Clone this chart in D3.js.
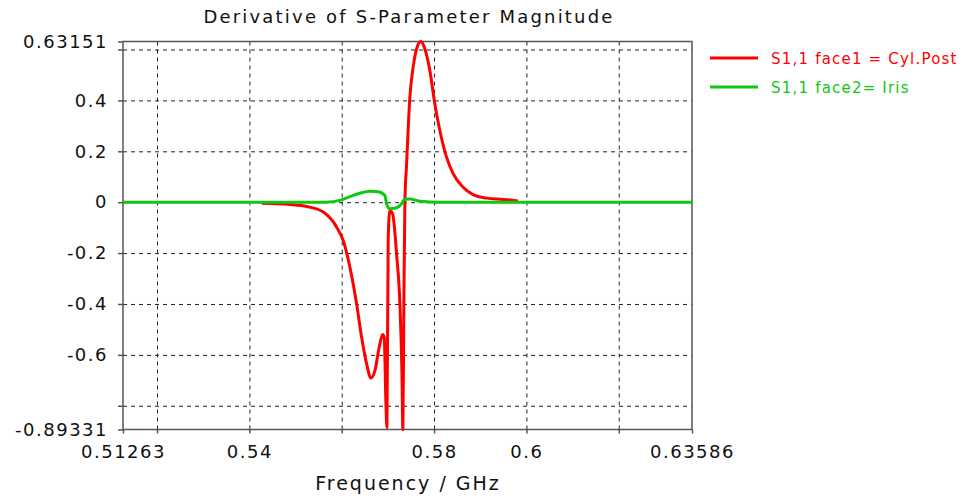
<!DOCTYPE html>
<html>
<head>
<meta charset="utf-8">
<script src="https://cdn.jsdelivr.net/npm/d3@7"></script>
<style>
  body { margin: 0; background: #fff; }
  text { font-family: "DejaVu Sans", sans-serif; }
</style>
</head>
<body>
<svg id="chart" width="971" height="499"></svg>
<script>
// frequencies (GHz) and values
var redFreq = [0.54268, 0.5488, 0.55242, 0.556, 0.5589, 0.56033, 0.56178, 0.56323, 0.56431, 0.5654,
  0.56632, 0.56719, 0.56812, 0.56886, 0.5692, 0.56957, 0.56979, 0.57007, 0.57043, 0.57102,
  0.57188, 0.5726, 0.57303, 0.57325, 0.57346, 0.57368, 0.57405, 0.57476, 0.57547, 0.57634,
  0.57714, 0.578, 0.57908, 0.58016, 0.58125, 0.5827, 0.58413, 0.58629, 0.58845, 0.59135,
  0.59494, 0.59819];
var redVal = [-0.004, -0.009, -0.017, -0.039, -0.098, -0.151, -0.256, -0.4, -0.531, -0.636,
  -0.691, -0.662, -0.57, -0.52, -0.531, -0.79, -0.885, -0.138, -0.033, -0.046,
  -0.203, -0.4, -0.66, -0.89331, -0.4, 0, 0.15, 0.413, 0.531, 0.61,
  0.63151, 0.603, 0.518, 0.387, 0.282, 0.177, 0.112, 0.059, 0.03, 0.016,
  0.011, 0.005];

var greenFreq = [0.51263, 0.5567, 0.5596, 0.56178, 0.56394, 0.56611, 0.5679, 0.56935, 0.56972,
  0.57043, 0.57188, 0.57297, 0.57368, 0.57476, 0.57692, 0.58125, 0.63586];
var greenVal = [0, 0, 0.007, 0.022, 0.035, 0.043, 0.041, 0.026, -0.007,
  -0.026, -0.022, -0.006, 0.013, 0.013, 0.004, 0, 0];

var seriesNames = ["S1,1 face1 = Cyl.Post", "S1,1 face2= Iris"];
var seriesColors = ["#ff0000", "#10c810"];

var xLabels = [0.51263, 0.54, 0.58, 0.6, 0.63586];
var xGrid = [0.52, 0.54, 0.56, 0.58, 0.6, 0.62];
var yLabels = [0.63151, 0.4, 0.2, 0, -0.2, -0.4, -0.6, -0.89331];
var yGrid = [0.6, 0.4, 0.2, 0, -0.2, -0.4, -0.6, -0.8];

var svg = d3.select("#chart");

// plot box
var box = { left: 123, right: 692, top: 41.5, bottom: 429.5 };

var x = d3.scaleLinear().domain([0.51263, 0.63586]).range([box.left, box.right]);
var y = d3.scaleLinear().domain([-0.89331, 0.63151]).range([box.bottom, box.top]);

// grid
svg.append("g")
  .attr("transform", "translate(0," + box.bottom + ")")
  .call(d3.axisBottom(x).tickValues(xGrid).tickSize(-(box.bottom - box.top)).tickFormat(""))
  .call(function (g) { g.select(".domain").remove(); })
  .selectAll(".tick line")
  .attr("stroke", "#222").attr("stroke-dasharray", "4,4");

svg.append("g")
  .attr("transform", "translate(" + box.left + ",0)")
  .call(d3.axisLeft(y).tickValues(yGrid).tickSize(-(box.right - box.left)).tickFormat(""))
  .call(function (g) { g.select(".domain").remove(); })
  .selectAll(".tick line")
  .attr("stroke", "#222").attr("stroke-dasharray", "4,4");

// frame
svg.append("rect")
  .attr("x", box.left).attr("y", box.top)
  .attr("width", box.right - box.left).attr("height", box.bottom - box.top)
  .attr("fill", "none").attr("stroke", "#555").attr("stroke-width", 1.5);

// axes with labels
var xAxis = svg.append("g")
  .attr("transform", "translate(0," + box.bottom + ")")
  .call(d3.axisBottom(x).tickValues(xLabels.concat([0.52, 0.56, 0.62])).tickSize(4)
    .tickFormat(function (d) { return xLabels.indexOf(d) >= 0 ? String(d) : ""; }));
xAxis.select(".domain").remove();
xAxis.selectAll(".tick line").attr("stroke", "#555").attr("stroke-width", 1.5);
xAxis.selectAll(".tick text")
  .attr("fill", "#111").attr("font-size", 18).attr("letter-spacing", 1.5)
  .attr("y", 16);

var yAxis = svg.append("g")
  .attr("transform", "translate(" + box.left + ",0)")
  .call(d3.axisLeft(y).tickValues(yLabels.concat([0.6, -0.8])).tickSize(5)
    .tickFormat(function (d) { return yLabels.indexOf(d) >= 0 ? String(d) : ""; }));
yAxis.select(".domain").remove();
yAxis.selectAll(".tick line").attr("stroke", "#555").attr("stroke-width", 1.5);
yAxis.selectAll(".tick text")
  .attr("fill", "#111").attr("font-size", 18).attr("letter-spacing", 1.5)
  .attr("x", -15);

// title and axis title
svg.append("text")
  .attr("x", 409).attr("y", 23)
  .attr("text-anchor", "middle")
  .attr("font-size", 18)
  .attr("letter-spacing", 2.2)
  .attr("fill", "#111")
  .text("Derivative of S-Parameter Magnitude");

svg.append("text")
  .attr("x", 408).attr("y", 490)
  .attr("text-anchor", "middle")
  .attr("font-size", 19)
  .attr("letter-spacing", 2)
  .attr("fill", "#111")
  .text("Frequency / GHz");

// curves
var line = d3.line()
  .x(function (d) { return x(d[0]); })
  .y(function (d) { return y(d[1]); })
  .curve(d3.curveMonotoneX);

var redData = d3.zip(redFreq, redVal);
var greenData = d3.zip(greenFreq, greenVal);

svg.append("path")
  .datum(redData)
  .attr("d", line)
  .attr("fill", "none")
  .attr("stroke", seriesColors[0])
  .attr("stroke-width", 3)
  .attr("stroke-linejoin", "round");

svg.append("path")
  .datum(greenData)
  .attr("d", line)
  .attr("fill", "none")
  .attr("stroke", seriesColors[1])
  .attr("stroke-width", 3)
  .attr("stroke-linejoin", "round");

// legend
var legend = svg.append("g").attr("transform", "translate(710,58)");
seriesNames.forEach(function (name, i) {
  legend.append("line")
    .attr("x1", 0).attr("x2", 48)
    .attr("y1", i * 29).attr("y2", i * 29)
    .attr("stroke", seriesColors[i]).attr("stroke-width", 3);
  legend.append("text")
    .attr("x", 61).attr("y", i * 29 + 6)
    .attr("font-size", 15)
    .attr("letter-spacing", 1.2)
    .attr("fill", seriesColors[i])
    .text(name);
});
</script>
</body>
</html>
